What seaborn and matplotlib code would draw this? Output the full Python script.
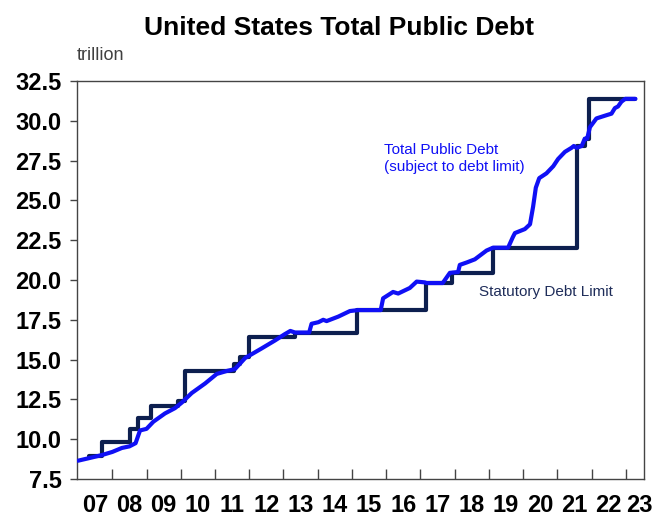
import matplotlib
matplotlib.use("Agg")
import matplotlib.pyplot as plt
import seaborn as sns
import pandas as pd
import numpy as np

sns.set_theme(style="white")
plt.rcParams["font.family"] = ["Liberation Sans", "DejaVu Sans"]

# total public debt subject to limit, trillion (decimal year)
debt_year = [2007.0, 2007.3, 2007.69, 2008.0, 2008.28, 2008.5, 2008.68, 2008.81, 2009.0,
             2009.2, 2009.54, 2009.83, 2010.03, 2010.32, 2010.71, 2011.05, 2011.35, 2011.58,
             2011.88, 2012.36, 2012.75, 2013.04, 2013.2, 2013.34, 2013.75, 2013.82, 2014.02,
             2014.16, 2014.26, 2014.6, 2014.94, 2015.18, 2015.84, 2015.91, 2016.2, 2016.35,
             2016.69, 2016.89, 2017.13, 2017.17, 2017.65, 2017.86, 2018.1, 2018.15, 2018.35,
             2018.59, 2018.93, 2019.12, 2019.56, 2019.7, 2019.76, 2020.05, 2020.2, 2020.29,
             2020.37, 2020.47, 2020.68, 2020.88, 2021.02, 2021.22, 2021.41, 2021.48, 2021.56,
             2021.71, 2021.8, 2021.87, 2021.95, 2022.14, 2022.43, 2022.58, 2022.68, 2022.77,
             2022.87, 2022.98, 2023.28]
debt_value = [8.65, 8.8, 9.0, 9.2, 9.45, 9.55, 9.75, 10.55, 10.65,
              11.1, 11.62, 11.95, 12.3, 12.9, 13.5, 14.1, 14.29, 14.4,
              15.1, 15.7, 16.2, 16.6, 16.8, 16.7, 16.7, 17.25, 17.35,
              17.5, 17.42, 17.7, 18.05, 18.11, 18.11, 18.85, 19.25, 19.15,
              19.5, 19.9, 19.85, 19.81, 19.81, 20.45, 20.5, 20.95, 21.1,
              21.3, 21.85, 22.03, 22.03, 22.7, 22.95, 23.2, 23.5, 24.6,
              25.8, 26.4, 26.7, 27.15, 27.6, 28.05, 28.3, 28.42, 28.3,
              28.42, 28.88, 28.88, 29.6, 30.15, 30.35, 30.45, 30.8, 30.9,
              31.2, 31.38, 31.38]

# statutory debt limit, trillion
limit_year = [2007.32, 2007.69, 2008.52, 2008.76, 2009.12, 2009.92, 2010.12, 2011.55,
              2011.73, 2012.0, 2013.34, 2015.14, 2017.15, 2017.91, 2019.13, 2021.58,
              2021.8, 2021.93, 2023.28]
limit_value = [8.965, 9.815, 10.615, 11.315, 12.104, 12.394, 14.294, 14.694,
               15.194, 16.394, 16.699, 18.113, 19.809, 20.456, 22.03, 28.401,
               28.881, 31.381, 31.381]

year_labels = ["07", "08", "09", "10", "11", "12", "13", "14", "15",
               "16", "17", "18", "19", "20", "21", "22", "23"]

debt = pd.DataFrame({"year": debt_year, "value": debt_value})
limit = pd.DataFrame({"year": limit_year, "value": limit_value})

fig = plt.figure(figsize=(6.68, 5.16), dpi=100)
ax = fig.add_axes([0.1153, 0.0717, 0.9476 - 0.1153 + 0.0165, 0.843 - 0.0717])

navy = "#0d1f4f"
blue = "#1010f5"
sns.lineplot(data=limit, x="year", y="value", ax=ax, color=navy, lw=3,
             drawstyle="steps-post", sort=False, zorder=2)
sns.lineplot(data=debt, x="year", y="value", ax=ax, color=blue, lw=3,
             sort=False, zorder=3)

ax.set_xlim(2006.97, 2023.53)
ax.set_ylim(7.5, 32.5)
ax.set_yticks(np.arange(7.5, 32.6, 2.5))
ax.set_yticklabels([f"{v:.1f}" for v in np.arange(7.5, 32.6, 2.5)])

label_pos = [2007.5 + i for i in range(len(year_labels))]
label_pos[-1] = 2023.38
ax.set_xticks(label_pos)
ax.set_xticklabels(year_labels)
ax.set_xticks(np.arange(2008, 2024), minor=True)

ax.tick_params(axis="x", which="major", length=0, pad=11, labelsize=17)
ax.tick_params(axis="x", which="minor", direction="in", length=7, width=1,
               color="#444444", bottom=True)
ax.tick_params(axis="y", direction="out", length=5, width=1, color="#444444",
               pad=6, labelsize=17, left=True)
for lab in ax.get_xticklabels() + ax.get_yticklabels():
    lab.set_fontweight("bold")
    lab.set_color("black")

for s in ax.spines.values():
    s.set_color("#444444")
    s.set_linewidth(1)
    s.set_visible(True)

ax.set_xlabel("")
ax.set_ylabel("")

fig.text(0.5075, 1 - 35 / 516, "United States Total Public Debt", ha="center",
         va="baseline", fontsize=19, fontweight="bold", color="black")
fig.text(77 / 668, 1 - 60 / 516, "trillion", ha="left", va="baseline",
         fontsize=13, color="#404040")

ax.text(384 / 668, 1 - 171 / 516, "Total Public Debt\n(subject to debt limit)",
        transform=fig.transFigure, ha="left", va="baseline", fontsize=11,
        color=blue, linespacing=1.25)
ax.text(479 / 668, 1 - 296 / 516, "Statutory Debt Limit", transform=fig.transFigure,
        ha="left", va="baseline", fontsize=11, color="#1f2d5a")

fig.savefig("out.png", dpi=100)
plt.close(fig)
